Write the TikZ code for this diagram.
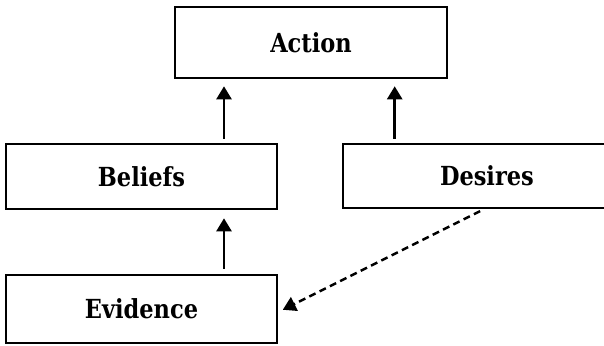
\documentclass[tikz,border=0pt]{standalone}
\usepackage{fontspec}
\setmainfont{DejaVu Serif}
\usetikzlibrary{arrows.meta}
\newcommand{\boxtext}[1]{\scalebox{0.9}[1.05]{\fontsize{25}{30}\selectfont\bfseries #1}}
\begin{document}
\begin{tikzpicture}[x=1pt,y=-1pt,
  box/.style={draw,line width=2.6pt,inner sep=0pt},
  arr/.style={line width=2.5pt,-{Triangle[length=13pt,width=15pt]}},
  darr/.style={arr,dash pattern=on 7pt off 4.5pt}]
\clip (0,0) rectangle (604,345);
\node[box,minimum width=272pt,minimum height=71pt] (A) at (311,42.5) {\boxtext{Action}};
\node[box,minimum width=271pt,minimum height=65pt] (B) at (141.5,176.5) {\boxtext{Beliefs}};
\node[box,minimum width=271pt,minimum height=64pt,text width=271pt,align=left] (D) at (478.5,176) {\hspace*{97pt}\boxtext{Desires}};
\node[box,minimum width=271pt,minimum height=68pt] (E) at (141.5,309) {\boxtext{Evidence}};
\draw[arr,shorten <=4pt,shorten >=7pt] ([xshift=82.5pt]B.north) -- ([xshift=82.5pt]B.north |- A.south);
\draw[arr,shorten <=4pt,shorten >=7pt] ([xshift=53pt]D.north west) -- ([xshift=53pt]D.north west |- A.south);
\draw[arr,shorten <=5pt,shorten >=8pt] ([xshift=82.5pt]E.north) -- ([xshift=82.5pt]E.north |- B.south);
\draw[darr,shorten <=4pt,shorten >=5pt] ([xshift=142pt]D.south west) -- ([yshift=-3pt]E.east);
\end{tikzpicture}
\end{document}
